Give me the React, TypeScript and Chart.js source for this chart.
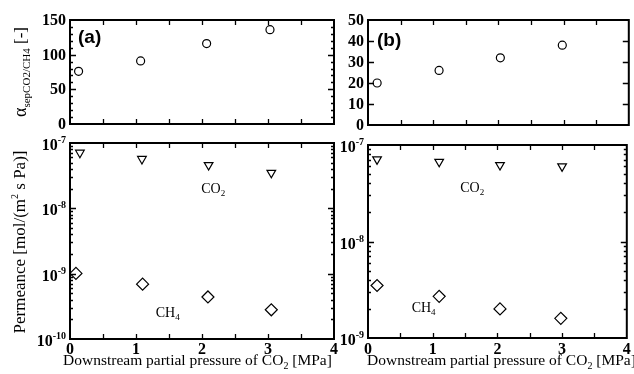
import React, { useEffect, useRef } from "react";
import { Chart, registerables } from "chart.js";
Chart.register(...registerables);

// ---------- data ----------
const pressureA = [0.13, 1.07, 2.07, 3.03];
const alphaA = [76, 91, 116, 136];
const pressureB = [0.14, 1.09, 2.03, 2.98];
const alphaB = [20, 26, 32, 38];

const co2PressureA = [0.15, 1.09, 2.1, 3.05];
const co2PermA = [7.1e-8, 5.7e-8, 4.6e-8, 3.5e-8];
const ch4PressureA = [0.09, 1.1, 2.09, 3.05];
const ch4PermA = [1.01e-9, 6.9e-10, 4.4e-10, 2.8e-10];

const co2PressureB = [0.14, 1.1, 2.04, 3.0];
const co2PermB = [7.1e-8, 6.7e-8, 6.2e-8, 6.0e-8];
const ch4PressureB = [0.14, 1.1, 2.04, 2.98];
const ch4PermB = [3.5e-9, 2.7e-9, 2.0e-9, 1.6e-9];

const xTickLabels = [0, 1, 2, 3, 4];
const alphaTicksA = [0, 50, 100, 150];
const alphaTicksB = [0, 10, 20, 30, 40, 50];
const logExpA = [-10, -9, -8, -7];
const logExpB = [-9, -8, -7];

const SERIF = '"Liberation Serif", "DejaVu Serif", serif';
const SANS = '"Liberation Sans", Arial, sans-serif';
const W = 634;
const H = 374;

type Part = { t: string; size: number; bold?: boolean; dy?: number; family?: string };

function drawParts(ctx: CanvasRenderingContext2D, parts: Part[], x: number, y: number, align: "left" | "center" | "right", rotate = false) {
  ctx.save();
  ctx.translate(x, y);
  if (rotate) ctx.rotate(-Math.PI / 2);
  ctx.textBaseline = "alphabetic";
  ctx.textAlign = "left";
  ctx.fillStyle = "#000";
  const fonts = parts.map((p) => `${p.bold ? "bold " : ""}${p.size}px ${p.family ?? SERIF}`);
  let total = 0;
  const widths = parts.map((p, i) => {
    ctx.font = fonts[i];
    const w = ctx.measureText(p.t).width;
    total += w;
    return w;
  });
  let cx = align === "left" ? 0 : align === "center" ? -total / 2 : -total;
  parts.forEach((p, i) => {
    ctx.font = fonts[i];
    ctx.fillText(p.t, cx, p.dy ?? 0);
    cx += widths[i];
  });
  ctx.restore();
}

type PanelCfg = {
  area: { l: number; t: number; r: number; b: number };
  log: boolean;
  yMin: number;
  yMax: number;
  yMajor: number[];
  yMinorStep?: number;
  datasets: any[];
  extra: (ctx: CanvasRenderingContext2D, chart: any) => void;
};

function makePlugin(cfg: PanelCfg) {
  return {
    id: "frame",
    afterDatasetsDraw(chart: any) {
      const ctx: CanvasRenderingContext2D = chart.ctx;
      const { left, right, top, bottom } = chart.chartArea;
      const xs = chart.scales.x;
      const ys = chart.scales.y;
      ctx.save();
      ctx.strokeStyle = "#000";
      ctx.lineWidth = 2;
      ctx.strokeRect(left, top, right - left, bottom - top);
      ctx.lineWidth = 1.3;
      ctx.beginPath();
      for (let v = 0.5; v < 4; v += 0.5) {
        const px = Math.round(xs.getPixelForValue(v)) + 0.5;
        ctx.moveTo(px, bottom);
        ctx.lineTo(px, bottom - 5);
        ctx.moveTo(px, top);
        ctx.lineTo(px, top + 5);
      }
      const yTick = (val: number, len: number) => {
        const py = Math.round(ys.getPixelForValue(val)) + 0.5;
        ctx.moveTo(left, py);
        ctx.lineTo(left + len, py);
        ctx.moveTo(right, py);
        ctx.lineTo(right - len, py);
      };
      if (cfg.log) {
        const e0 = Math.round(Math.log10(cfg.yMin));
        const e1 = Math.round(Math.log10(cfg.yMax));
        for (let e = e0; e < e1; e++) {
          for (let m = 2; m <= 9; m++) yTick(m * Math.pow(10, e), 3);
        }
        for (let e = e0 + 1; e < e1; e++) yTick(Math.pow(10, e), 6);
      } else {
        if (cfg.yMinorStep) {
          for (let v = cfg.yMin + cfg.yMinorStep; v < cfg.yMax; v += cfg.yMinorStep) yTick(v, 3);
        }
        cfg.yMajor.forEach((v) => {
          if (v > cfg.yMin && v < cfg.yMax) yTick(v, 6);
        });
      }
      ctx.stroke();
      ctx.restore();

      if (cfg.log) {
        cfg.yMajor.forEach((e) => {
          const py = ys.getPixelForValue(Math.pow(10, e));
          drawParts(
            ctx,
            [
              { t: "10", size: 16, bold: true },
              { t: String(e), size: 10, bold: true, dy: -7 },
            ],
            left - 4,
            py + 7,
            "right"
          );
        });
      } else {
        cfg.yMajor.forEach((v) => {
          const py = ys.getPixelForValue(v);
          drawParts(ctx, [{ t: String(v), size: 16, bold: true }], left - 4, py + 5, "right");
        });
      }
      cfg.extra(ctx, chart);
    },
  };
}

function xAxisBelow(ctx: CanvasRenderingContext2D, chart: any, titleLeft: number) {
  const xs = chart.scales.x;
  xTickLabels.forEach((v) => {
    drawParts(ctx, [{ t: String(v), size: 16, bold: true }], xs.getPixelForValue(v), 354, "center");
  });
  drawParts(
    ctx,
    [
      { t: "Downstream partial pressure of CO", size: 15.5 },
      { t: "2", size: 10, dy: 4 },
      { t: " [MPa]", size: 15.5 },
    ],
    titleLeft,
    365,
    "left"
  );
}

function gasLabel(ctx: CanvasRenderingContext2D, chart: any, main: string, sub: string, x: number, y: number) {
  const px = chart.scales.x.getPixelForValue(x);
  const py = chart.scales.y.getPixelForValue(y);
  drawParts(
    ctx,
    [
      { t: main, size: 14 },
      { t: sub, size: 9, dy: 3 },
    ],
    px,
    py + 5,
    "center"
  );
}

const circleStyle = { pointStyle: "circle", pointRadius: 4, borderWidth: 1.2, borderColor: "#000", backgroundColor: "#fff" };
const triStyle = { pointStyle: "triangle", pointRadius: 5, rotation: 180, borderWidth: 1.2, borderColor: "#000", backgroundColor: "#fff" };
const diaStyle = { pointStyle: "rectRot", pointRadius: 6, borderWidth: 1.2, borderColor: "#000", backgroundColor: "#fff" };

const toPts = (xs: number[], ys: number[]) => xs.map((x, i) => ({ x, y: ys[i] }));

const panels: PanelCfg[] = [
  {
    area: { l: 70, t: 20, r: 334, b: 124 },
    log: false,
    yMin: 0,
    yMax: 150,
    yMajor: alphaTicksA,
    yMinorStep: 10,
    datasets: [{ label: "alpha (a)", data: toPts(pressureA, alphaA), ...circleStyle }],
    extra: (ctx, chart) => {
      drawParts(ctx, [{ t: "(a)", size: 19, bold: true, family: SANS }], chart.chartArea.left + 8, 43, "left");
      drawParts(
        ctx,
        [
          { t: "α", size: 18 },
          { t: "sepCO2/CH4", size: 11, dy: 4 },
          { t: " [-]", size: 17 },
        ],
        26,
        72,
        "center",
        true
      );
    },
  },
  {
    area: { l: 70, t: 143, r: 334, b: 339 },
    log: true,
    yMin: 1e-10,
    yMax: 1e-7,
    yMajor: logExpA,
    datasets: [
      { label: "CO2 (a)", data: toPts(co2PressureA, co2PermA), ...triStyle },
      { label: "CH4 (a)", data: toPts(ch4PressureA, ch4PermA), ...diaStyle },
    ],
    extra: (ctx, chart) => {
      gasLabel(ctx, chart, "CO", "2", 2.17, 2.05e-8);
      gasLabel(ctx, chart, "CH", "4", 1.48, 2.6e-10);
      xAxisBelow(ctx, chart, 63);
      drawParts(
        ctx,
        [
          { t: "Permeance [mol/(m", size: 17 },
          { t: "2", size: 10, dy: -7 },
          { t: " s Pa)]", size: 17 },
        ],
        25,
        242,
        "center",
        true
      );
    },
  },
  {
    area: { l: 368, t: 20, r: 633, b: 125 },
    log: false,
    yMin: 0,
    yMax: 50,
    yMajor: alphaTicksB,
    datasets: [{ label: "alpha (b)", data: toPts(pressureB, alphaB), ...circleStyle }],
    extra: (ctx, chart) => {
      drawParts(ctx, [{ t: "(b)", size: 19, bold: true, family: SANS }], chart.chartArea.left + 9, 46, "left");
    },
  },
  {
    area: { l: 368, t: 145, r: 633, b: 338 },
    log: true,
    yMin: 1e-9,
    yMax: 1e-7,
    yMajor: logExpB,
    datasets: [
      { label: "CO2 (b)", data: toPts(co2PressureB, co2PermB), ...triStyle },
      { label: "CH4 (b)", data: toPts(ch4PressureB, ch4PermB), ...diaStyle },
    ],
    extra: (ctx, chart) => {
      gasLabel(ctx, chart, "CO", "2", 1.61, 3.67e-8);
      gasLabel(ctx, chart, "CH", "4", 0.86, 2.1e-9);
      xAxisBelow(ctx, chart, 367);
    },
  },
];

export default function App() {
  const refs = [useRef<HTMLCanvasElement>(null), useRef<HTMLCanvasElement>(null), useRef<HTMLCanvasElement>(null), useRef<HTMLCanvasElement>(null)];

  useEffect(() => {
    const charts = panels.map((cfg, i) => {
      const canvas = refs[i].current!;
      return new Chart(canvas, {
        type: "scatter",
        data: { datasets: cfg.datasets },
        options: {
          responsive: false,
          animation: false,
          devicePixelRatio: 1,
          layout: {
            padding: { left: cfg.area.l, top: cfg.area.t, right: W - cfg.area.r, bottom: H - cfg.area.b },
          },
          scales: {
            x: { type: "linear", min: 0, max: 4, display: false },
            y: { type: cfg.log ? "logarithmic" : "linear", min: cfg.yMin, max: cfg.yMax, display: false },
          },
          plugins: { legend: { display: false }, tooltip: { enabled: false } },
        },
        plugins: [makePlugin(cfg)],
      } as any);
    });
    return () => charts.forEach((c) => c.destroy());
  }, []);

  return (
    <div style={{ position: "absolute", left: 0, top: 0, width: W, height: H, background: "#fff", overflow: "hidden" }}>
      {refs.map((r, i) => (
        <canvas key={i} ref={r} width={W} height={H} style={{ position: "absolute", left: 0, top: 0, width: W, height: H }} />
      ))}
    </div>
  );
}
